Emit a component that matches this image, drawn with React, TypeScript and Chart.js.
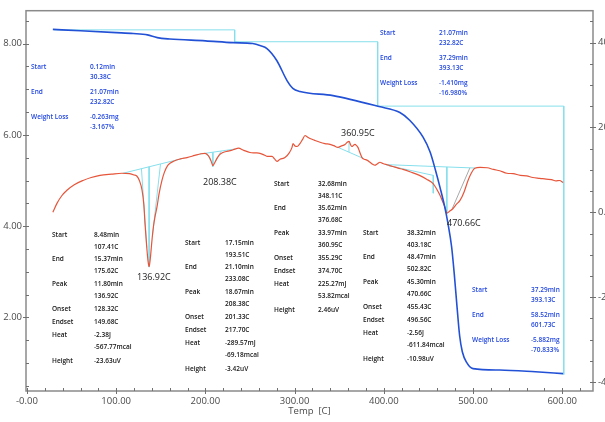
import React, { useEffect, useRef } from "react";
import { Chart, registerables } from "chart.js";

Chart.register(...registerables);

const FONT = "'Open Sans', 'Noto Sans', sans-serif";

// ---- TG curve (left axis, mg) ----
const tgTemp = [29, 60, 100, 119, 135, 146, 160, 200, 231, 253, 262, 269, 280, 291.5, 298, 306, 343, 394.6, 418, 429, 444, 452, 458, 463, 468, 472, 476, 479, 482, 485, 488, 493, 500, 530, 570, 601];
const tgMass = [8.31, 8.28, 8.24, 8.22, 8.19, 8.13, 8.10, 8.06, 8.02, 8.0, 7.95, 7.89, 7.63, 7.19, 7.02, 6.95, 6.86, 6.62, 6.49, 6.32, 5.95, 5.62, 5.22, 4.85, 4.45, 4.05, 3.55, 2.95, 2.25, 1.6, 1.25, 1.01, 0.88, 0.85, 0.81, 0.77];

// ---- DTA curve (right axis, uV) ----
const dtaTemp = [29, 33.6, 39, 44.8, 53, 62.8, 72, 81.8, 95, 106.5, 115, 120, 123.3, 126, 129, 131, 132.3, 134, 135.7, 136.9, 138.2, 140.1, 142, 144, 145.7, 148, 151.3, 154, 158, 165, 172, 179.4, 188, 195, 199.6, 203, 205.2, 207, 208.4, 210, 213, 216, 219.7, 225, 229, 233, 237, 243, 250, 256, 261.2, 266, 269, 274.7, 277.5, 280.3, 283.6, 289.2, 294, 297.1, 298.2, 300.5, 302.7, 306, 309, 311.7, 314, 317.3, 322, 328.5, 334, 339.7, 344, 348.7, 352, 356.5, 359, 361, 363, 364.3, 366, 367.7, 369.5, 371, 373, 375.6, 378, 381, 384.5, 387, 390, 392.5, 395.7, 399, 403.6, 410, 416, 421.5, 430, 440, 448, 455, 460, 463, 466, 468.6, 470.7, 474, 477.6, 481, 485.4, 490, 494.4, 498, 502, 508, 516, 523, 530, 538, 545, 553, 560, 567, 575, 582, 588, 593, 597, 601];
const dtaUV = [0.0, 2.1, 3.9, 5.2, 6.5, 7.5, 8.2, 8.7, 9.0, 9.2, 9.1, 8.8, 8.5, 7.5, 5.2, 1.8, -2.6, -7.5, -11.5, -12.8, -11.0, -6.6, -3.0, -0.5, 1.2, 4.3, 7.5, 9.4, 11.1, 12.1, 12.6, 12.9, 13.4, 13.8, 13.9, 13.4, 12.7, 11.7, 11.0, 11.5, 12.7, 13.6, 14.1, 14.4, 14.6, 14.9, 15.1, 14.6, 14.1, 14.0, 13.9, 13.5, 13.2, 13.2, 12.6, 12.0, 12.5, 12.9, 14.0, 15.3, 16.2, 15.6, 15.5, 16.2, 17.2, 18.1, 17.8, 17.4, 17.0, 16.5, 16.2, 16.0, 15.7, 15.3, 15.6, 16.0, 16.5, 16.7, 15.8, 15.5, 15.8, 16.0, 15.7, 15.3, 14.2, 12.9, 12.5, 12.3, 11.8, 11.4, 11.1, 11.4, 11.8, 11.5, 11.2, 10.8, 10.4, 10.1, 9.5, 8.7, 7.8, 6.8, 5.2, 4.0, 2.5, 1.2, -0.2, 0.3, 0.9, 1.8, 2.8, 4.8, 7.5, 9.2, 10.4, 10.6, 10.5, 10.1, 9.8, 9.2, 9.1, 8.7, 8.6, 8.2, 8.0, 7.8, 7.7, 7.4, 7.5, 7.0];

// ---- TG step analysis ----
const stepTemps = [30.38, 232.82, 393.13, 601.73];
const stepMass = [8.3, 8.04, 6.63, 0.75];

// ---- DTA peak analysis ----
const peakTemps = [136.92, 208.38, 360.95, 470.66];
const peakStart = [107.41, 193.51, 348.11, 403.18];
const peakEnd = [175.62, 233.08, 376.68, 502.82];
const peakOnset = [128.32, 201.33, 355.29, 455.43];
const peakEndset = [149.68, 217.7, 374.7, 496.56];
const peakHeight = [-23.63, -3.42, 2.46, -10.98];
const peakLabels = ["136.92C", "208.38C", "360.95C", "470.66C"];
// extra construction lines of the 4th peak (temp, uV)
const p4OnsetLineTemp = [403.18, 455.43, 455.43];
const p4OnsetLineUV = [11.1, 8.7, 4.5];
const p4EndsetLineTemp = [496.56, 477.0];
const p4EndsetLineUV = [10.5, 1.0];

// ---- ticks ----
const xTicks = [0, 100, 200, 300, 400, 500, 600];
const leftTicks = [2, 4, 6, 8];
const rightTicks = [-40, -20, 0, 20, 40];

// ---- annotation texts ----
const tgLabels = ["Start", "End", "Weight Loss"];
const tgBlocks = [
  [["0.12min", "30.38C"], ["21.07min", "232.82C"], ["-0.263mg", "-3.167%"]],
  [["21.07min", "232.82C"], ["37.29min", "393.13C"], ["-1.410mg", "-16.980%"]],
  [["37.29min", "393.13C"], ["58.52min", "601.73C"], ["-5.882mg", "-70.833%"]],
];
const dtaLabels = ["Start", "End", "Peak", "Onset", "Endset", "Heat", "Height"];
const dtaBlocks = [
  [["8.48min", "107.41C"], ["15.37min", "175.62C"], ["11.80min", "136.92C"], ["128.32C"], ["149.68C"], ["-2.38J", "-567.77mcal"], ["-23.63uV"]],
  [["17.15min", "193.51C"], ["21.10min", "233.08C"], ["18.67min", "208.38C"], ["201.33C"], ["217.70C"], ["-289.57mJ", "-69.18mcal"], ["-3.42uV"]],
  [["32.68min", "348.11C"], ["35.62min", "376.68C"], ["33.97min", "360.95C"], ["355.29C"], ["374.70C"], ["225.27mJ", "53.82mcal"], ["2.46uV"]],
  [["38.32min", "403.18C"], ["48.47min", "502.82C"], ["45.30min", "470.66C"], ["455.43C"], ["496.56C"], ["-2.56J", "-611.84mcal"], ["-10.98uV"]],
];

// layout (pixels) of the text blocks
const tgBlockPos = [
  { lx: 31, vx: 90, y: 67 },
  { lx: 380, vx: 439, y: 33 },
  { lx: 472, vx: 531, y: 290 },
];
const tgRowOff = [0, 25, 50];
const dtaBlockPos = [
  { lx: 52, vx: 94, y: 235 },
  { lx: 185, vx: 225, y: 243 },
  { lx: 274, vx: 318, y: 184 },
  { lx: 363, vx: 407, y: 233 },
];
const dtaRowOff = [0, 24.5, 49, 74, 87.5, 100, 126];
const peakLabelPos = [
  { x: 137, y: 277 },
  { x: 203, y: 182 },
  { x: 341, y: 133 },
  { x: 447, y: 223 },
];

function interp(xs: number[], ys: number[], t: number) {
  if (t <= xs[0]) return ys[0];
  for (let i = 1; i < xs.length; i++) {
    if (t <= xs[i]) {
      const f = (t - xs[i - 1]) / (xs[i] - xs[i - 1]);
      return ys[i - 1] + f * (ys[i] - ys[i - 1]);
    }
  }
  return ys[ys.length - 1];
}

const CYAN = "#86dfec";
const GRAYLINE = "#a8a8a8";

function seg(points: { x: number; y: number }[], axis: string, color = CYAN) {
  return {
    data: points,
    yAxisID: axis,
    borderColor: color,
    borderWidth: 1,
    pointRadius: 0,
    tension: 0,
    fill: false,
  };
}

function buildDatasets() {
  const ds: any[] = [];
  ds.push({
    data: tgTemp.map((t, i) => ({ x: t, y: tgMass[i] })),
    yAxisID: "y",
    borderColor: "#2251d6",
    borderWidth: 1.6,
    pointRadius: 0,
    cubicInterpolationMode: "monotone",
    fill: false,
  });
  ds.push({
    data: dtaTemp.map((t, i) => ({ x: t, y: dtaUV[i] })),
    yAxisID: "y2",
    borderColor: "#e6553a",
    borderWidth: 1.2,
    pointRadius: 0,
    cubicInterpolationMode: "monotone",
    fill: false,
  });
  // TG step lines
  const st: { x: number; y: number }[] = [{ x: stepTemps[0], y: stepMass[0] }];
  for (let i = 1; i < stepTemps.length; i++) {
    st.push({ x: stepTemps[i], y: stepMass[i - 1] });
    st.push({ x: stepTemps[i], y: stepMass[i] });
  }
  ds.push(seg(st, "y"));
  // DTA peaks
  peakTemps.forEach((p, i) => {
    const bs = interp(dtaTemp, dtaUV, peakStart[i]);
    const be = interp(dtaTemp, dtaUV, peakEnd[i]);
    const base = (t: number) => bs + ((t - peakStart[i]) / (peakEnd[i] - peakStart[i])) * (be - bs);
    ds.push(seg([{ x: peakStart[i], y: bs }, { x: peakEnd[i], y: be }], "y2"));
    ds.push(seg([{ x: p, y: base(p) }, { x: p, y: base(p) + peakHeight[i] }], "y2"));
    if (i < 2) {
      const to = p - (p - peakOnset[i]) * 0.3;
      const te = p + (peakEndset[i] - p) * 0.3;
      ds.push(seg([{ x: peakOnset[i], y: base(peakOnset[i]) }, { x: to, y: interp(dtaTemp, dtaUV, to) }], "y2"));
      ds.push(seg([{ x: peakEndset[i], y: base(peakEndset[i]) }, { x: te, y: interp(dtaTemp, dtaUV, te) }], "y2"));
    }
  });
  ds.push(seg(p4OnsetLineTemp.map((t, i) => ({ x: t, y: p4OnsetLineUV[i] })), "y2"));
  ds.push(seg(p4EndsetLineTemp.map((t, i) => ({ x: t, y: p4EndsetLineUV[i] })), "y2", GRAYLINE));
  return ds;
}

const overlay = {
  id: "overlay",
  afterDraw(chart: any) {
    const ctx: CanvasRenderingContext2D = chart.ctx;
    const { left, right, top, bottom } = chart.chartArea;
    const xs = chart.scales.x;
    const yl = chart.scales.y;
    const yr = chart.scales.y2;
    ctx.save();
    // frame
    ctx.strokeStyle = "#8a8a8a";
    ctx.lineWidth = 1.5;
    ctx.strokeRect(left, top, right - left, bottom - top);
    // ticks
    ctx.strokeStyle = "#707070";
    ctx.lineWidth = 1;
    const ln = (x1: number, y1: number, x2: number, y2: number) => {
      ctx.beginPath();
      ctx.moveTo(x1, y1);
      ctx.lineTo(x2, y2);
      ctx.stroke();
    };
    for (let v = 0; v <= 620; v += 20) {
      const px = Math.round(xs.getPixelForValue(v)) + 0.5;
      if (px > right) break;
      const major = v % 100 === 0;
      ln(px, bottom - 3, px, bottom + (major ? 3 : 0));
    }
    for (let v = 0.5; v <= 8.7; v += 0.5) {
      const py = Math.round(yl.getPixelForValue(v)) + 0.5;
      const major = Math.abs(v % 2) < 1e-6;
      ln(left - (major ? 3 : 0), py, left + 3, py);
    }
    for (let v = -40; v <= 47; v += 5) {
      const py = Math.round(yr.getPixelForValue(v)) + 0.5;
      const major = v % 20 === 0;
      ln(right - 3, py, right + (major ? 3 : 0), py);
    }
    // texts
    ctx.textBaseline = "middle";
    ctx.textAlign = "left";
    ctx.font = `600 6.5px ${FONT}`;
    ctx.fillStyle = "#2146e0";
    tgBlocks.forEach((blk, b) => {
      const pos = tgBlockPos[b];
      blk.forEach((vals, r) => {
        const y = pos.y + tgRowOff[r];
        ctx.fillText(tgLabels[r], pos.lx, y);
        vals.forEach((v, k) => ctx.fillText(v, pos.vx, y + k * 10.5));
      });
    });
    ctx.fillStyle = "#151515";
    dtaBlocks.forEach((blk, b) => {
      const pos = dtaBlockPos[b];
      blk.forEach((vals, r) => {
        const y = pos.y + dtaRowOff[r];
        ctx.fillText(dtaLabels[r], pos.lx, y);
        vals.forEach((v, k) => ctx.fillText(v, pos.vx, y + k * 12));
      });
    });
    ctx.font = `9px ${FONT}`;
    ctx.fillStyle = "#222";
    peakLabels.forEach((t, i) => ctx.fillText(t, peakLabelPos[i].x, peakLabelPos[i].y));
    ctx.restore();
  },
};

export default function App() {
  const ref = useRef<HTMLCanvasElement>(null);
  useEffect(() => {
    const canvas = ref.current;
    if (!canvas) return;
    const tickFont = { family: FONT, size: 9.5 };
    const chart = new Chart(canvas, {
      type: "line",
      data: { datasets: buildDatasets() },
      plugins: [overlay],
      options: {
        animation: false,
        responsive: false,
        devicePixelRatio: 1,
        layout: { padding: { top: 10, left: 0, right: 0, bottom: 0 } },
        plugins: { legend: { display: false }, tooltip: { enabled: false } },
        elements: { line: { capBezierPoints: true } },
        scales: {
          x: {
            type: "linear",
            position: "bottom",
            min: -1.1,
            max: 634.5,
            grid: { display: false, drawTicks: false },
            border: { display: false },
            afterBuildTicks: (s: any) => {
              s.ticks = xTicks.map((v) => ({ value: v }));
            },
            afterFit: (s: any) => {
              s.height = 31;
            },
            ticks: {
              autoSkip: false,
              maxRotation: 0,
              padding: 5,
              color: "#4a4a4a",
              font: tickFont,
              callback: (v: any) => (v === 0 ? "-0.00" : Number(v).toFixed(2)),
            },
            title: {
              display: true,
              text: "Temp  [C]",
              color: "#4a4a4a",
              font: { family: FONT, size: 9.5 },
              padding: { top: 0, bottom: 5 },
            },
          },
          y: {
            type: "linear",
            position: "left",
            min: 0.39,
            max: 8.72,
            grid: { display: false, drawTicks: false },
            border: { display: false },
            afterBuildTicks: (s: any) => {
              s.ticks = leftTicks.map((v) => ({ value: v }));
            },
            afterFit: (s: any) => {
              s.width = 26;
            },
            ticks: {
              autoSkip: false,
              padding: 4,
              color: "#4a4a4a",
              font: tickFont,
              callback: (v: any) => Number(v).toFixed(2),
            },
          },
          y2: {
            type: "linear",
            position: "right",
            min: -42.1,
            max: 47.5,
            grid: { display: false, drawTicks: false },
            border: { display: false },
            afterBuildTicks: (s: any) => {
              s.ticks = rightTicks.map((v) => ({ value: v }));
            },
            afterFit: (s: any) => {
              s.width = 12;
            },
            ticks: {
              autoSkip: false,
              padding: 5,
              color: "#4a4a4a",
              font: tickFont,
              callback: (v: any) => Number(v).toFixed(2),
            },
          },
        },
      } as any,
    });
    return () => chart.destroy();
  }, []);
  return (
    <div style={{ position: "fixed", left: 0, top: 0, width: 605, height: 422, background: "#fff" }}>
      <canvas ref={ref} width={605} height={422} style={{ display: "block" }} />
    </div>
  );
}
